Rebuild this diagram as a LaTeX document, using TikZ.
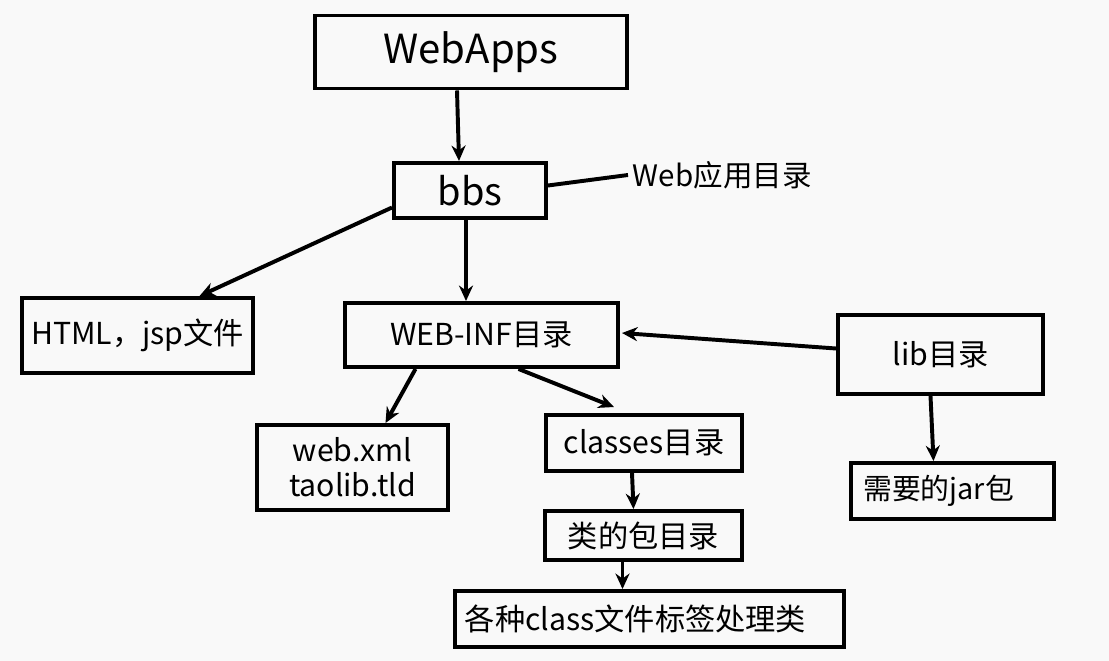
\documentclass[tikz,border=0pt]{standalone}
\usepackage{fontspec}
\setmainfont{Noto Sans CJK SC}
\usetikzlibrary{arrows.meta, positioning, calc}
\definecolor{PageGray}{HTML}{F9F9F9}
\tikzset{
    % Box styles with sharp corners
    dirbox/.style={
        rectangle,
        draw=black,
        line width=2.8pt,
        inner sep=0pt,
        align=center,
        font=\fontsize{21.5}{25}\selectfont
    },
    dirbox big/.style={
        dirbox,
        font=\fontsize{28.5}{32}\selectfont
    },
    arrow style/.style={
        -{Stealth[length=11pt,width=10pt]},
        line width=2.8pt,
        black
    },
    plain line/.style={
        line width=2.8pt,
        black
    }
}
\begin{document}
\begin{tikzpicture}[x=0.025cm, y=-0.025cm]
        % Page
        \fill[PageGray] (0,0) rectangle (1109,661);
        \useasboundingbox (0,0) rectangle (1109,661);

        % Top levels
        \node[dirbox big, minimum width=7.775cm, minimum height=1.825cm] (webapps) at (471,52) {WebApps};
        \node[dirbox big, font=\fontsize{27}{32}\selectfont, minimum width=3.8cm, minimum height=1.375cm] (bbs) at (470,190.5) {bbs};
        \node[anchor=west, font=\fontsize{21}{25}\selectfont] (bbsnote) at (628,175) {Web应用目录};

        % Second level
        \node[dirbox, minimum width=5.775cm, minimum height=1.875cm] (html) at (137.5,335.5) {HTML，jsp文件};
        \node[dirbox, minimum width=6.825cm, minimum height=1.6cm] (webinf) at (481.5,335) {WEB-INF目录};
        \node[dirbox, minimum width=5.125cm, minimum height=1.975cm] (lib) at (940.5,354.5) {lib目录};
        \node[dirbox, font=\fontsize{20.5}{25}\selectfont, minimum width=5.075cm, minimum height=1.4cm] (jar) at (952.5,491) {需要的jar包\hspace{0.7cm}};

        % Inside WEB-INF
        \node[dirbox, minimum width=4.775cm, minimum height=2.125cm] (webxml) at (352.5,467.5) {web.xml\\taolib.tld};
        \node[dirbox, minimum width=4.9cm, minimum height=1.4cm] (classes) at (644,443) {classes目录};
        \node[dirbox, minimum width=4.925cm, minimum height=1.225cm] (pkg) at (643.5,535.5) {类的包目录};
        \node[dirbox, minimum width=9.725cm, minimum height=1.4cm] (classfiles) at (649.5,619) {各种class文件标签处理类\hspace{0.7cm}};

        % Connection lines
        \draw[arrow style] ($(webapps.south)+(-14,0)$) -- ($(bbs.north)+(-11,0)$);
        \draw[plain line] ($(bbs.east)+(0,-5)$) -- (bbsnote.west);
        \draw[arrow style] ($(bbs.west)+(0,17)$) -- ($(html.north)+(62,0)$);
        \draw[arrow style] ($(bbs.south)+(-4,0)$) -- ($(webinf.north)+(-15.5,0)$);
        \draw[arrow style] ($(lib.west)+(0,-6)$) -- ($(webinf.east)+(2,-2)$);
        \draw[arrow style] ($(lib.south)+(-10,0)$) -- ($(jar.north)+(-19,0)$);
        \draw[arrow style] ($(webinf.south)+(-66,0)$) -- ($(webxml.north)+(33,0)$);
        \draw[arrow style] ($(webinf.south)+(37,0)$) -- ($(classes.north)+(-30,-6)$);
        \draw[arrow style] ($(classes.south)+(-12,0)$) -- ($(pkg.north)+(-10,0)$);
        \draw[arrow style] ($(pkg.south)+(-21,0)$) -- ($(classfiles.north)+(-27,0)$);
    \end{tikzpicture}
\end{document}
